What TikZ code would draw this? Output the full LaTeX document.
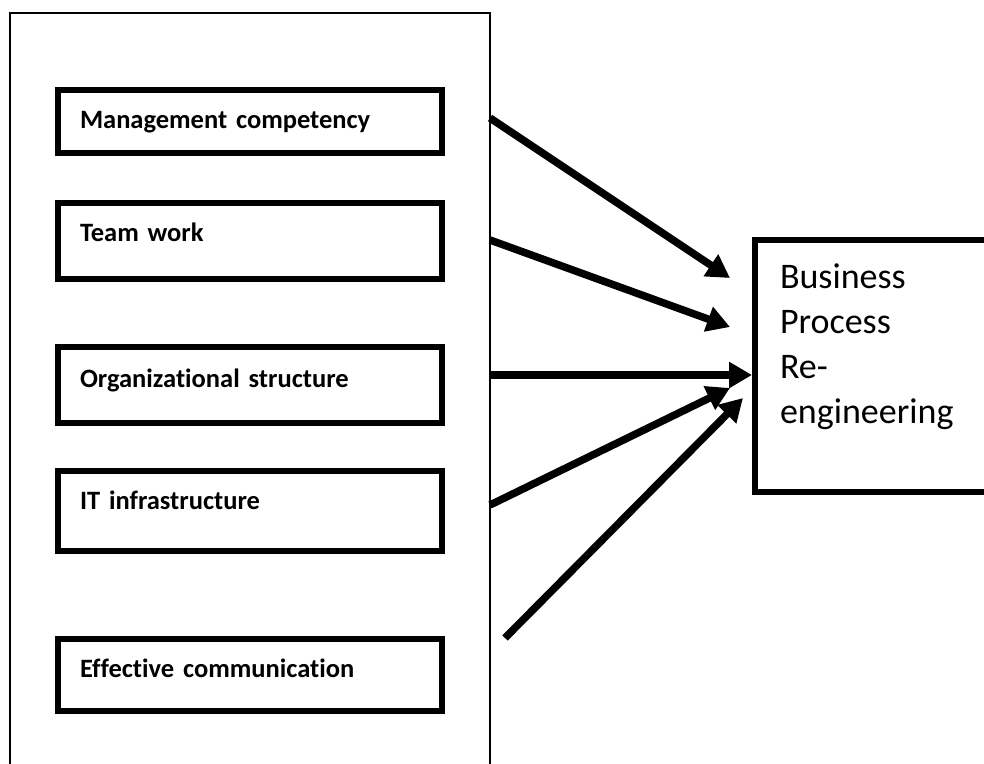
\documentclass[tikz,border=0pt]{standalone}
\usepackage{fontspec}
\setmainfont{Carlito}[RawFeature={-liga}]
\usetikzlibrary{arrows.meta}
\newcommand\factorfont{\fontsize{26.5}{33}\selectfont\bfseries}
\begin{document}
\begin{tikzpicture}[x=1pt,y=-1pt,
  factor/.style={draw, line width=5.7pt, outer sep=0pt, anchor=north west,
    minimum width=384pt, text width=340pt, inner xsep=22pt, inner ysep=0pt,
    align=left, text height=38pt, font=\factorfont},
  outcome/.style={draw, line width=5.7pt, outer sep=0pt, anchor=north west,
    minimum width=320pt, text width=270pt, inner xsep=23pt, inner ysep=0pt,
    align=left, text height=48pt, text depth=204pt,
    font=\fontsize{36}{45}\selectfont},
  container/.style={draw, line width=1.3pt, outer sep=0pt, anchor=north west,
    minimum width=480pt, minimum height=800pt, inner sep=0pt},
  link/.style={line width=7.5pt, -{Triangle[length=23pt,width=25pt]}}]
\useasboundingbox (0,0) rectangle (984,763);
\clip (0,0) rectangle (984,763);
\fill[white] (0,0) rectangle (984,763);
\node[container] (frame) at (10,13) {};
\node[factor, text depth=25pt] (mc) at (58,90) {Management competency};
\node[factor, text depth=38pt] (tw) at (58,203) {Team work};
\node[factor, text height=40pt, text depth=36pt] (os) at (58,347) {Organizational structure};
\node[factor, text depth=42pt] (it) at (58,471) {IT infrastructure};
\node[factor, text depth=34pt] (ec) at (58,639) {Effective communication};
\node[outcome] (bpr) at (755,240) {Business\\Process\\Re-\\engineering};
\coordinate (s1) at (490,118);
\coordinate (s2) at (490,240);
\coordinate (s3) at (490,375);
\coordinate (s4) at (490,505);
\coordinate (s5) at (505,638);
\coordinate (e1) at (730,278);
\coordinate (e2) at (730,327);
\coordinate (e3) at (752,375);
\coordinate (e4) at (730,388);
\coordinate (e5) at (743,398);
\draw[link] (s1) -- (e1);
\draw[link] (s2) -- (e2);
\draw[link] (s3) -- (e3);
\draw[link] (s4) -- (e4);
\draw[link] (s5) -- (e5);
\end{tikzpicture}
\end{document}
